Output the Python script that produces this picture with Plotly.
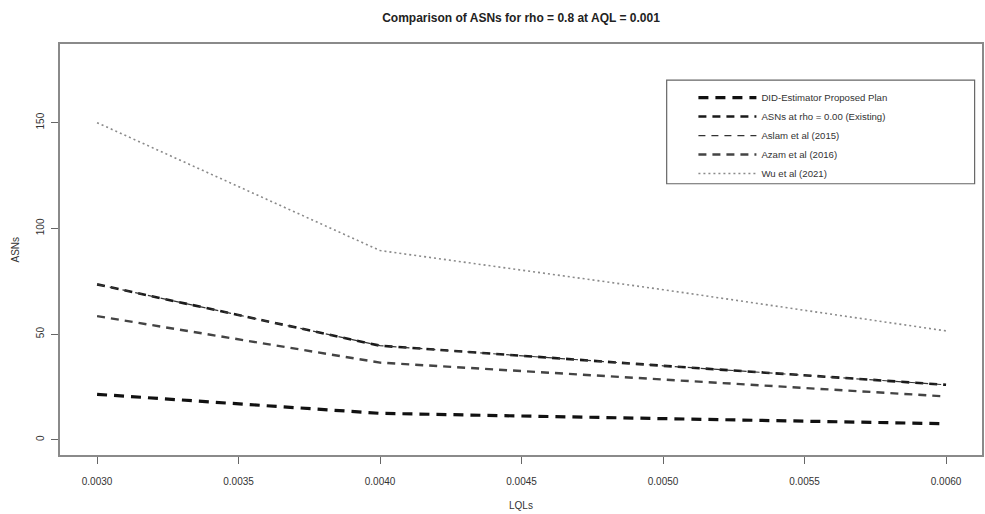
import plotly.graph_objects as go

lqls = [0.0030, 0.0040, 0.0050, 0.0060]
did_proposed = [21.5, 12.5, 10.0, 7.6]
asn_rho0 = [73.5, 44.5, 35.0, 26.0]
aslam_2015 = [73.5, 44.5, 35.0, 26.0]
azam_2016 = [58.5, 36.5, 28.5, 20.5]
wu_2021 = [150.0, 89.5, 71.0, 51.5]

x_ticks = [0.0030, 0.0035, 0.0040, 0.0045, 0.0050, 0.0055, 0.0060]
x_tick_labels = ["0.0030", "0.0035", "0.0040", "0.0045", "0.0050", "0.0055", "0.0060"]
y_ticks = [0, 50, 100, 150]
y_tick_labels = ["0", "50", "100", "150"]

series = [
    ("DID-Estimator Proposed Plan", did_proposed, "#111111", 3.2, "10px,7px"),
    ("ASNs at rho = 0.00 (Existing)", asn_rho0, "#1a1a1a", 2.6, "8px,6px"),
    ("Aslam et al (2015)", aslam_2015, "#333333", 1.2, "7px,6px"),
    ("Azam et al (2016)", azam_2016, "#444444", 2.4, "8px,6px"),
    ("Wu et al (2021)", wu_2021, "#8a8a8a", 1.6, "2px,3px"),
]

fig = go.Figure()
for name, vals, color, width, dash in series:
    fig.add_trace(go.Scatter(
        x=lqls, y=vals, mode="lines", name=name,
        line=dict(color=color, width=width, dash=dash),
    ))

font_family = "Liberation Sans, Arial, sans-serif"

fig.update_layout(
    width=985, height=514,
    margin=dict(l=60, r=3, t=44, b=59, autoexpand=False),
    paper_bgcolor="white", plot_bgcolor="white",
    font=dict(family=font_family, size=10, color="#333333"),
    title=dict(text="<b>Comparison of ASNs for rho = 0.8 at AQL = 0.001</b>",
               x=0.5, xref="paper", xanchor="center",
               y=0.965, yref="container", yanchor="middle",
               font=dict(size=12, color="#222222")),
    showlegend=True,
    legend=dict(x=0.687, y=0.905, xanchor="left", yanchor="top",
                bgcolor="rgba(0,0,0,0)", borderwidth=0,
                font=dict(size=9.6, color="#333333"),
                itemwidth=58, tracegroupgap=0),
    xaxis=dict(range=[0.002869, 0.006127], tickmode="array",
               tickvals=x_ticks, ticktext=x_tick_labels,
               showgrid=False, zeroline=False, automargin=False,
               showline=True, mirror=True, linecolor="#8a8a8a", linewidth=1.5,
               ticks="outside", ticklen=7, tickcolor="#666666", tickwidth=1,
               ticklabelstandoff=9,
               tickfont=dict(size=10, color="#333333")),
    yaxis=dict(range=[-7.2, 187.2], tickmode="array",
               tickvals=y_ticks, ticktext=y_tick_labels,
               showgrid=False, zeroline=False, automargin=False,
               showline=True, mirror=True, linecolor="#8a8a8a", linewidth=1.5,
               ticks="outside", ticklen=7, tickcolor="#666666", tickwidth=1,
               tickangle=-90, ticklabelstandoff=3,
               tickfont=dict(size=10, color="#333333")),
)

# axis titles
fig.add_annotation(text="LQLs", xref="paper", yref="paper", x=0.5, y=-0.123,
                   xanchor="center", yanchor="middle",
                   showarrow=False, font=dict(size=10, color="#333333"))
fig.add_annotation(text="ASNs", xref="paper", yref="paper", x=0, y=0.5,
                   xanchor="center", yanchor="middle", xshift=-45, textangle=-90,
                   showarrow=False, font=dict(size=10, color="#333333"))

# legend frame
fig.add_shape(type="rect", xref="paper", yref="paper",
              x0=0.658, x1=0.992, y0=0.66, y1=0.912,
              line=dict(color="#666666", width=1.2), fillcolor="rgba(0,0,0,0)")

fig.write_html("out.html", config={"displayModeBar": False},
               post_script="document.body.style.margin='0px';")
